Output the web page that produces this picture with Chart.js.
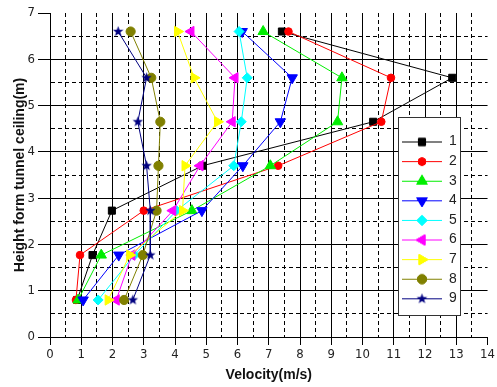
<!DOCTYPE html>
<html><head><meta charset="utf-8">
<script src="https://cdn.jsdelivr.net/npm/chart.js@4.4.0/dist/chart.umd.min.js"></script>
<style>html,body{margin:0;padding:0;background:#fff;}#wrap{width:497px;height:387px;position:relative;}</style>
</head><body><div id="wrap"><canvas id="c" width="497" height="387"></canvas></div>
<script>
// Height (m) of each measurement row, top to bottom
const heights = [6.6, 5.6, 4.65, 3.7, 2.73, 1.77, 0.8];
const seriesNames = ['1', '2', '3', '4', '5', '6', '7', '8', '9'];
// Velocity (m/s) for each series at the heights above
const v1 = [7.42, 12.87, 10.34, 4.88, 1.98, 1.36, 0.87];
const v2 = [7.63, 10.91, 10.6, 7.3, 3.0, 0.96, 0.83];
const v3 = [6.82, 9.34, 9.2, 7.05, 4.54, 1.64, 0.9];
const v4 = [6.15, 7.75, 7.37, 6.17, 4.86, 2.2, 1.06];
const v5 = [6.05, 6.31, 6.12, 5.88, 4.05, 2.7, 1.54];
const v6 = [4.51, 5.92, 5.83, 4.8, 3.93, 2.62, 2.12];
const v7 = [4.08, 4.61, 5.36, 4.32, 4.24, 2.55, 1.86];
const v8 = [2.58, 3.24, 3.53, 3.47, 3.41, 2.97, 2.37];
const v9 = [2.18, 3.09, 2.81, 3.09, 3.21, 3.21, 2.65];
const xTickLabels = ['0','1','2','3','4','5','6','7','8','9','10','11','12','13','14'];
const yTickLabels = ['0','1','2','3','4','5','6','7'];
const xTitle = 'Velocity(m/s)';
const yTitle = 'Height form tunnel ceiling(m)';

const allSeries = [v1, v2, v3, v4, v5, v6, v7, v8, v9];
const colors = ['#000000', '#ff0000', '#00ee00', '#0000ff', '#00ffff', '#ff00ff', '#ffff00', '#808000', '#000080'];

function starCanvas(color, r) {
  const s = Math.ceil(r * 2 + 2);
  const c = document.createElement('canvas');
  c.width = s; c.height = s;
  const g = c.getContext('2d');
  g.fillStyle = color;
  g.beginPath();
  for (let i = 0; i < 10; i++) {
    const rr = i % 2 === 0 ? r : r * 0.42;
    const a = -Math.PI / 2 + i * Math.PI / 5;
    const px = s / 2 + rr * Math.cos(a), py = s / 2 + rr * Math.sin(a);
    if (i === 0) g.moveTo(px, py); else g.lineTo(px, py);
  }
  g.closePath();
  g.fill();
  return c;
}
const starImg = starCanvas('#000080', 5.5);

const styles = [
  {pointStyle: 'rect', radius: 5, rotation: 0},
  {pointStyle: 'circle', radius: 3.8, rotation: 0},
  {pointStyle: 'triangle', radius: 6, rotation: 0},
  {pointStyle: 'triangle', radius: 6, rotation: 180},
  {pointStyle: 'rectRot', radius: 5, rotation: 0},
  {pointStyle: 'triangle', radius: 6, rotation: 270},
  {pointStyle: 'triangle', radius: 6, rotation: 90},
  {pointStyle: 'circle', radius: 4.6, rotation: 0},
  {pointStyle: starImg, radius: 5, rotation: 0}
];

function legendImage(i) {
  const c = document.createElement('canvas');
  c.width = 40; c.height = 14;
  const g = c.getContext('2d');
  g.strokeStyle = colors[i];
  g.lineWidth = 1;
  g.beginPath(); g.moveTo(0, 7.5); g.lineTo(40, 7.5); g.stroke();
  const st = styles[i];
  if (typeof st.pointStyle === 'string') {
    g.fillStyle = colors[i];
    Chart.helpers.drawPoint(g, {pointStyle: st.pointStyle, radius: st.radius, rotation: st.rotation, borderWidth: 1}, 20, 7.5);
    g.fill(); g.stroke();
  } else {
    g.drawImage(st.pointStyle, 20 - st.pointStyle.width / 2, 7.5 - st.pointStyle.height / 2);
  }
  return c;
}

const datasets = allSeries.map((vals, i) => ({
  label: seriesNames[i],
  data: vals.map((v, k) => ({x: v, y: heights[k]})),
  showLine: true,
  borderColor: colors[i],
  backgroundColor: colors[i],
  borderWidth: 1,
  pointStyle: styles[i].pointStyle,
  pointRadius: styles[i].radius,
  pointHoverRadius: styles[i].radius,
  pointRotation: styles[i].rotation,
  pointBorderWidth: 1,
  pointBorderColor: colors[i],
  pointBackgroundColor: colors[i],
  order: -i
}));

const LEG = {x: 398, y: 117, w: 62, h: 198};
const legendPlugin = {
  id: 'legendPlace',
  beforeDraw(chart) {
    const lg = chart.legend;
    if (!lg) return;
    const pad = lg.options.labels.padding;
    lg.left = 402 - pad; lg.right = lg.left + 60;
    lg.top = 134.5 - pad; lg.bottom = lg.top + 200;
  },
  afterDraw(chart) {
    const ctx = chart.ctx;
    ctx.save();
    ctx.fillStyle = '#ffffff';
    ctx.fillRect(LEG.x, LEG.y, LEG.w, LEG.h);
    ctx.strokeStyle = '#333333';
    ctx.lineWidth = 1;
    ctx.strokeRect(LEG.x + 0.5, LEG.y + 0.5, LEG.w, LEG.h);
    ctx.restore();
    if (chart.legend) chart.legend.draw();
  }
};

const isInt = v => Math.abs(v - Math.round(v)) < 1e-6;
const tickFont = {family: "'Liberation Sans Narrow', 'DejaVu Sans Condensed', 'Liberation Sans', Arial, sans-serif", size: 13};

new Chart(document.getElementById('c'), {
  type: 'scatter',
  data: {datasets},
  plugins: [legendPlugin],
  options: {
    responsive: false,
    animation: false,
    events: [],
    layout: {padding: {top: 13, right: 7, left: 0, bottom: 0}},
    plugins: {
      tooltip: {enabled: false},
      legend: {
        display: true,
        position: 'chartArea',
        align: 'start',
        labels: {
          usePointStyle: true,
          pointStyleWidth: 40,
          padding: 5.6,
          color: '#222222',
          font: {family: "'Liberation Sans', Arial, sans-serif", size: 14},
          generateLabels: (chart) => chart.data.datasets.map((ds, i) => ({
            text: ds.label,
            fillStyle: colors[i],
            strokeStyle: colors[i],
            lineWidth: 1,
            pointStyle: legendImage(i),
            hidden: false,
            datasetIndex: i,
            fontColor: '#222222'
          }))
        }
      }
    },
    scales: {
      x: {
        type: 'linear',
        min: 0, max: 14,
        afterFit: (s) => { s.height = 50; },
        ticks: {
          stepSize: 0.5,
          autoSkip: false,
          maxRotation: 0,
          padding: 2,
          color: '#222222',
          font: tickFont,
          callback: (v) => isInt(v) ? xTickLabels[Math.round(v)] : ''
        },
        grid: {
          color: (c) => (c.tick && (c.tick.value === 14)) ? 'rgba(0,0,0,0)' : '#000000',
          lineWidth: 1,
          tickLength: 8,
          tickColor: (c) => (c.tick && isInt(c.tick.value)) ? '#000000' : 'rgba(0,0,0,0)'
        },
        border: {
          display: true, color: '#000000', width: 1,
          dash: (c) => (c.tick && !isInt(c.tick.value)) ? [4, 3] : []
        },
        title: {
          display: true, text: xTitle, color: '#111111',
          font: {family: "'Liberation Sans', Arial, sans-serif", size: 14, weight: 'bold'},
          padding: {top: 0, bottom: 3}
        }
      },
      y: {
        type: 'linear',
        min: 0, max: 7,
        afterFit: (s) => { s.width = 50; },
        ticks: {
          stepSize: 0.5,
          autoSkip: false,
          padding: 3,
          color: '#222222',
          font: tickFont,
          callback: (v) => isInt(v) ? yTickLabels[Math.round(v)] : ''
        },
        grid: {
          color: (c) => (c.tick && (c.tick.value === 7)) ? 'rgba(0,0,0,0)' : '#000000',
          lineWidth: 1,
          tickLength: 12,
          tickColor: (c) => (c.tick && isInt(c.tick.value)) ? '#000000' : 'rgba(0,0,0,0)'
        },
        border: {
          display: true, color: '#000000', width: 1,
          dash: (c) => (c.tick && !isInt(c.tick.value)) ? [4, 3] : []
        },
        title: {
          display: true, text: yTitle, color: '#111111',
          font: {family: "'Liberation Sans', Arial, sans-serif", size: 14, weight: 'bold'},
          padding: {top: 12, bottom: 0}
        }
      }
    }
  }
});
</script></body></html>
